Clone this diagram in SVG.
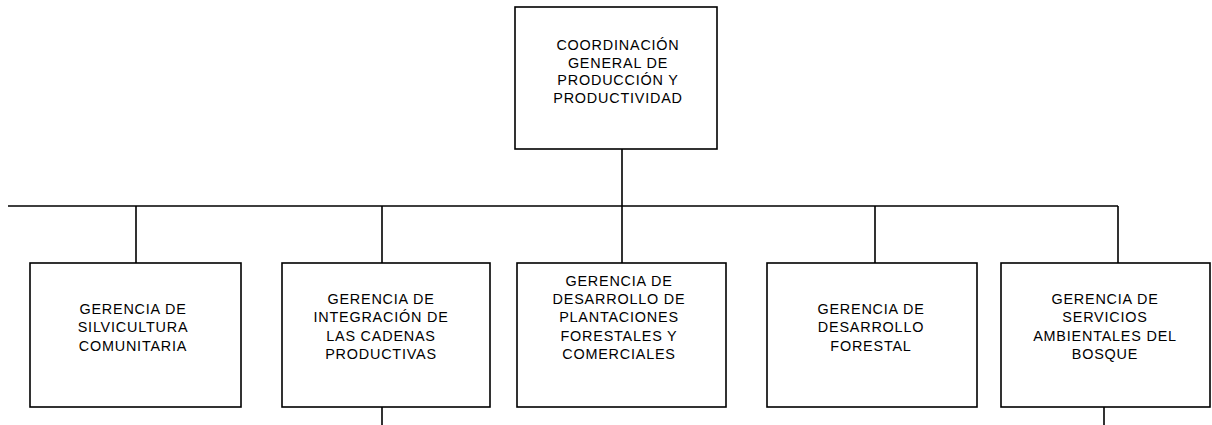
<svg xmlns="http://www.w3.org/2000/svg" width="1212" height="425" viewBox="0 0 1212 425">
<style>
.box{fill:#fff;stroke:#000;stroke-width:1.6}
.ln{fill:none;stroke:#000;stroke-width:1.6}
text{font-family:"Liberation Sans",Arial,sans-serif;font-size:14.4px;letter-spacing:0.8px;text-anchor:middle;fill:#000}
</style>
<rect width="1212" height="425" fill="#fff"/>
<g id="connectors">
<path class="ln" d="M622 149V263M8 206H1118M136 206V263M382 206V263M875 206V263M1118 206V263M382 407V425M1104 407V425"/>
</g>
<g id="n0">
<rect class="box" x="515" y="7" width="202" height="142"/>
<text x="618" y="50">COORDINACIÓN</text>
<text x="618" y="67.7">GENERAL DE</text>
<text x="618" y="85.4">PRODUCCIÓN Y</text>
<text x="618" y="103">PRODUCTIVIDAD</text>
</g>
<g id="n1">
<rect class="box" x="30" y="263" width="211" height="144"/>
<text x="133" y="314">GERENCIA DE</text>
<text x="133" y="332.3">SILVICULTURA</text>
<text x="133" y="350.6">COMUNITARIA</text>
</g>
<g id="n2">
<rect class="box" x="282" y="263" width="208" height="144"/>
<text x="381" y="304">GERENCIA DE</text>
<text x="381" y="322.3">INTEGRACIÓN DE</text>
<text x="381" y="340.6">LAS CADENAS</text>
<text x="381" y="358.9">PRODUCTIVAS</text>
</g>
<g id="n3">
<rect class="box" x="517" y="263" width="209" height="144"/>
<text x="619" y="286">GERENCIA DE</text>
<text x="619" y="304.2">DESARROLLO DE</text>
<text x="619" y="322.4">PLANTACIONES</text>
<text x="619" y="340.6">FORESTALES Y</text>
<text x="619" y="358.8">COMERCIALES</text>
</g>
<g id="n4">
<rect class="box" x="767" y="263" width="210" height="144"/>
<text x="871" y="314">GERENCIA DE</text>
<text x="871" y="332.3">DESARROLLO</text>
<text x="871" y="350.6">FORESTAL</text>
</g>
<g id="n5">
<rect class="box" x="1001" y="263" width="209" height="144"/>
<text x="1105" y="304">GERENCIA DE</text>
<text x="1105" y="322.3">SERVICIOS</text>
<text x="1105" y="340.6">AMBIENTALES DEL</text>
<text x="1105" y="358.9">BOSQUE</text>
</g>
</svg>
